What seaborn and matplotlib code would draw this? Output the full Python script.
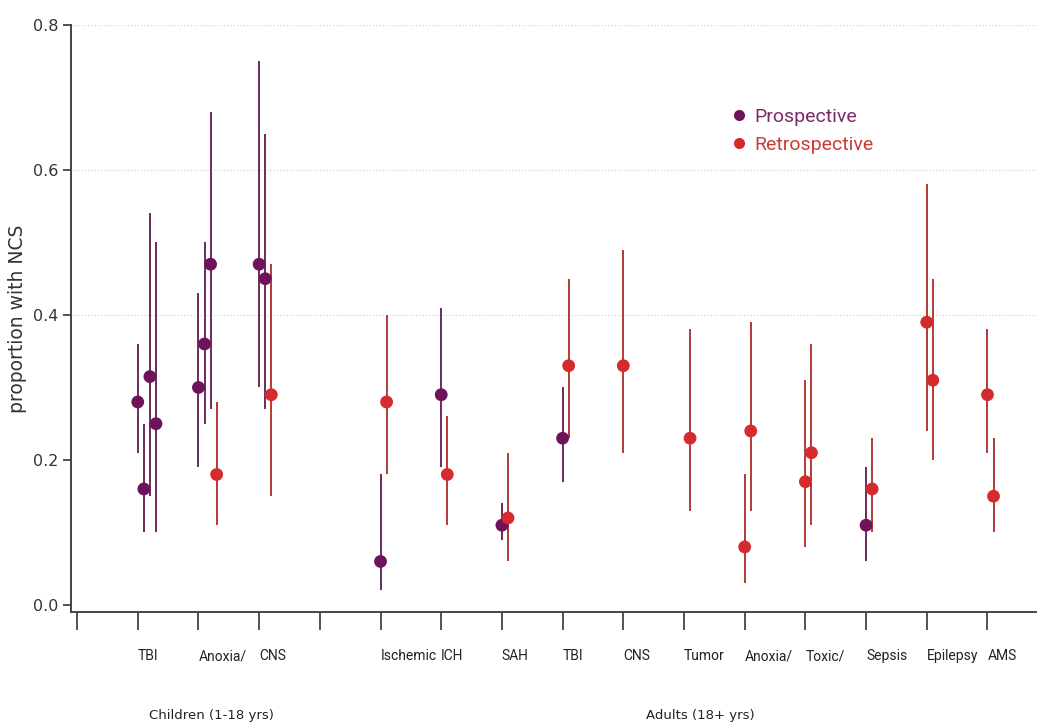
import matplotlib
matplotlib.use("Agg")
import matplotlib.pyplot as plt
import matplotlib.transforms as mtransforms
from matplotlib.lines import Line2D
import numpy as np
import pandas as pd
import seaborn as sns

# tick categories along the x axis (index = tick position)
categories = ["", "TBI", "Anoxia/", "CNS", "", "Ischemic", "ICH", "SAH",
              "TBI", "CNS", "Tumor", "Anoxia/", "Toxic/", "Sepsis", "Epilepsy", "AMS"]

# one entry per study
cat_idx = [1, 1, 1, 1, 2, 2, 2, 2, 3, 3, 3,
           5, 5, 6, 6, 7, 7, 8, 8, 9, 10, 11, 11, 12, 12, 13, 13, 14, 14, 15, 15]
slot = [0, 1, 2, 3, 0, 1, 2, 3, 0, 1, 2,
        0, 1, 0, 1, 0, 1, 0, 1, 0, 1, 0, 1, 0, 1, 0, 1, 0, 1, 0, 1]
design = ["Prospective"] * 7 + ["Retrospective"] + ["Prospective"] * 2 + ["Retrospective"] + \
    ["Prospective", "Retrospective"] * 4 + ["Retrospective"] * 6 + \
    ["Prospective", "Retrospective"] + ["Retrospective"] * 4
est = [0.28, 0.16, 0.315, 0.25, 0.30, 0.36, 0.47, 0.18, 0.47, 0.45, 0.29,
       0.06, 0.28, 0.29, 0.18, 0.11, 0.12, 0.23, 0.33, 0.33, 0.23,
       0.08, 0.24, 0.17, 0.21, 0.11, 0.16, 0.39, 0.31, 0.29, 0.15]
lo = [0.21, 0.10, 0.15, 0.10, 0.19, 0.25, 0.27, 0.11, 0.30, 0.27, 0.15,
      0.02, 0.18, 0.19, 0.11, 0.09, 0.06, 0.17, 0.23, 0.21, 0.13,
      0.03, 0.13, 0.08, 0.11, 0.06, 0.10, 0.24, 0.20, 0.21, 0.10]
hi = [0.36, 0.25, 0.54, 0.50, 0.43, 0.50, 0.68, 0.28, 0.75, 0.65, 0.47,
      0.18, 0.40, 0.41, 0.26, 0.14, 0.21, 0.30, 0.45, 0.49, 0.38,
      0.18, 0.39, 0.31, 0.36, 0.19, 0.23, 0.58, 0.45, 0.38, 0.23]

groups = ["Children (1-18 yrs)", "Adults (18+ yrs)"]

df = pd.DataFrame({"cat": cat_idx, "slot": slot, "design": design,
                   "est": est, "lo": lo, "hi": hi})
df["x"] = df["cat"] + 0.1 * df["slot"]

point_col = {"Prospective": "#6e1259", "Retrospective": "#d52a2e"}
bar_col = {"Prospective": "#6a2c5e", "Retrospective": "#b23a36"}
text_col = {"Prospective": "#7a2a66", "Retrospective": "#cc3a33"}

sns.set_theme(style="white")
narrow = ["Roboto", "DejaVu Sans"]
plain = ["DejaVu Sans"]

fig = plt.figure(figsize=(10.41, 7.24), dpi=100)
ax = fig.add_axes([0.0682, 0.1547, 0.927, 0.8108])

# confidence intervals
for d in ["Prospective", "Retrospective"]:
    sub = df[df["design"] == d]
    ax.vlines(sub["x"], sub["lo"], sub["hi"], color=bar_col[d], linewidth=1.4, zorder=2)

sns.scatterplot(data=df, x="x", y="est", hue="design", palette=point_col,
                s=85, edgecolor="none", legend=False, ax=ax, zorder=3)

ax.set_xlim(-0.1, 15.8)
ax.set_ylim(-0.0097, 0.8)
ax.set_yticks([0.0, 0.2, 0.4, 0.6, 0.8])
ax.set_yticklabels(["0.0", "0.2", "0.4", "0.6", "0.8"], fontsize=11.5, family=plain, color="#333333")
for yv in [0.4, 0.6, 0.8]:
    ax.axhline(yv, color="#d4d4d4", linewidth=0.9, linestyle=":", zorder=0)

ax.set_xticks(range(len(categories)))
ax.set_xticklabels(categories, fontsize=10, family=narrow, color="#222222")
shift = mtransforms.ScaledTranslation(-0.03, 0, fig.dpi_scale_trans)
for lab in ax.get_xticklabels():
    lab.set_ha("left")
    lab.set_transform(lab.get_transform() + shift)

ax.set_xlabel("")
ax.set_ylabel("proportion with NCS", fontsize=13.5, family=plain, color="#333333", labelpad=4)

for side in ["top", "right"]:
    ax.spines[side].set_visible(False)
for side in ["left", "bottom"]:
    ax.spines[side].set_color("#444444")
    ax.spines[side].set_linewidth(1.4)
ax.tick_params(axis="x", direction="out", length=13, width=1.3, color="#444444", pad=14, bottom=True)
ax.tick_params(axis="y", direction="out", length=6, width=1.3, color="#444444", pad=3, left=True)

# legend
handles = [Line2D([], [], marker="o", linestyle="none", markersize=8,
                  markerfacecolor=point_col[d], markeredgecolor="none") for d in point_col]
leg = ax.legend(handles, list(point_col), loc="upper left", bbox_to_anchor=(0.66, 0.888),
                frameon=False, handletextpad=0.1, labelspacing=0.5, handlelength=1.4,
                prop={"family": narrow, "size": 14})
for t, d in zip(leg.get_texts(), point_col):
    t.set_color(text_col[d])

fig.text(211 / 1041, 1 - 716 / 724, groups[0], ha="center", va="center", fontsize=9.5,
         family=plain, color="#222222")
fig.text(700 / 1041, 1 - 716 / 724, groups[1], ha="center", va="center", fontsize=9.5,
         family=plain, color="#222222")

fig.savefig("out.png", dpi=100)
